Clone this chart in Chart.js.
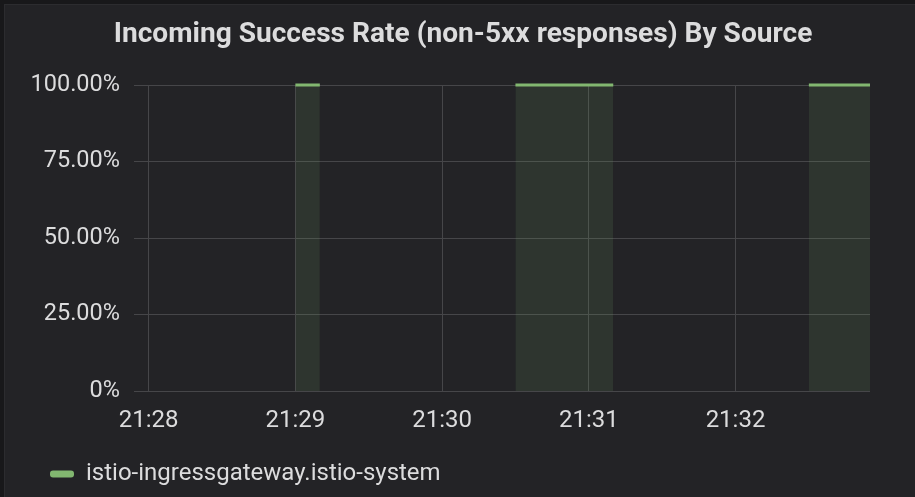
<!DOCTYPE html>
<html>
<head>
<meta charset="utf-8">
<script src="https://cdn.jsdelivr.net/npm/chart.js@4.4.1/dist/chart.umd.min.js"></script>
<style>
  html, body { margin: 0; padding: 0; background: #18181a; overflow: hidden; width: 915px; height: 497px; }
  #panel { position: absolute; left: 4px; top: 4px; width: 920px; height: 500px; background: #232326; border-left: 1px solid #2c2c2f; border-top: 1px solid #2c2c2f; }
  #wrap { position: absolute; left: 0px; top: 0px; width: 916px; height: 492px; }
</style>
</head>
<body>
<div id="panel"><div id="wrap"><canvas id="c" width="916" height="492"></canvas></div></div>
<script>
// ---- data (seconds relative to 21:28:00) ----
const TITLE = 'Incoming Success Rate (non-5xx responses) By Source';
const SERIES_NAME = 'istio-ingressgateway.istio-system';
const TIME_SEC = [60, 70, 80, 150, 160, 170, 180, 190, 200, 270, 280, 290, 295];
const SUCCESS_PCT = [100, 100, null, 100, 100, 100, 100, 100, null, 100, 100, 100, 100];
const X_TICK_SEC = [0, 60, 120, 180, 240];
const X_TICK_LABELS = ['21:28', '21:29', '21:30', '21:31', '21:32'];
const Y_TICK_VALUES = [0, 25, 50, 75, 100];
const Y_TICK_LABELS = ['0%', '25.00%', '50.00%', '75.00%', '100.00%'];
const X_MIN = -6, X_MAX = 295;

const LINE_COLOR = '#82b770';
const FILL_COLOR = 'rgba(126,178,109,0.13)';
const GRID_COLOR = '#464649';
const TEXT_COLOR = '#dcdcdd';

Chart.defaults.font.family = 'Roboto, "Open Sans", sans-serif';
Chart.defaults.color = TEXT_COLOR;

const points = TIME_SEC.map((t, i) => ({ x: t, y: SUCCESS_PCT[i] }));

const legendShift = {
  id: 'legendShift',
  afterLayout(chart) { if (chart.legend) { chart.legend.left = 24; } }
};

new Chart(document.getElementById('c'), {
  type: 'line',
  data: {
    datasets: [{
      label: SERIES_NAME,
      data: points,
      borderColor: LINE_COLOR,
      backgroundColor: FILL_COLOR,
      borderWidth: 3,
      fill: 'origin',
      pointRadius: 0,
      spanGaps: false,
      tension: 0,
      clip: false,
      yAxisID: 'y'
    }]
  },
  plugins: [legendShift],
  options: {
    responsive: false,
    animation: false,
    events: [],
    layout: { padding: { left: 0, right: 0, top: 0, bottom: 1 } },
    plugins: {
      tooltip: { enabled: false },
      title: {
        display: true,
        text: TITLE,
        color: TEXT_COLOR,
        font: { family: 'Roboto, sans-serif', size: 28.1, weight: 'bold', lineHeight: 1.2 },
        padding: { top: 13.6, bottom: 32.7 }
      },
      legend: {
        display: true,
        position: 'bottom',
        align: 'start',
        labels: {
          color: TEXT_COLOR,
          font: { size: 24 },
          boxWidth: 24,
          boxHeight: 7,
          padding: 21,
          generateLabels(chart) {
            const items = Chart.defaults.plugins.legend.labels.generateLabels(chart);
            items.forEach(it => {
              it.fillStyle = LINE_COLOR;
              it.strokeStyle = LINE_COLOR;
              it.lineWidth = 0;
              it.borderRadius = 3;
            });
            return items;
          }
        }
      }
    },
    scales: {
      x: {
        type: 'linear',
        min: X_MIN,
        max: X_MAX,
        afterBuildTicks(axis) { axis.ticks = X_TICK_SEC.map(v => ({ value: v })); },
        afterFit(axis) { axis.height = 50; },
        grid: { color: GRID_COLOR, lineWidth: 1, drawTicks: false },
        border: { display: false },
        ticks: {
          padding: 16,
          color: TEXT_COLOR,
          font: { size: 24 },
          maxRotation: 0,
          autoSkip: false,
          callback(v) { const i = X_TICK_SEC.indexOf(v); return i >= 0 ? X_TICK_LABELS[i] : ''; }
        }
      },
      y: {
        position: 'left',
        min: 0,
        max: 100,
        afterBuildTicks(axis) { axis.ticks = Y_TICK_VALUES.map(v => ({ value: v })); },
        afterFit(axis) { axis.width = 129; },
        grid: { color: GRID_COLOR, lineWidth: 1, drawTicks: false },
        border: { display: false },
        ticks: {
          padding: 14,
          color: TEXT_COLOR,
          font: { size: 23.5 },
          callback(v) { const i = Y_TICK_VALUES.indexOf(v); return i >= 0 ? Y_TICK_LABELS[i] : ''; }
        }
      },
      yRight: {
        position: 'right',
        display: true,
        afterFit(axis) { axis.width = 51; },
        grid: { display: false, drawTicks: false },
        border: { display: false },
        ticks: { display: false }
      }
    }
  }
});
</script>
</body>
</html>
